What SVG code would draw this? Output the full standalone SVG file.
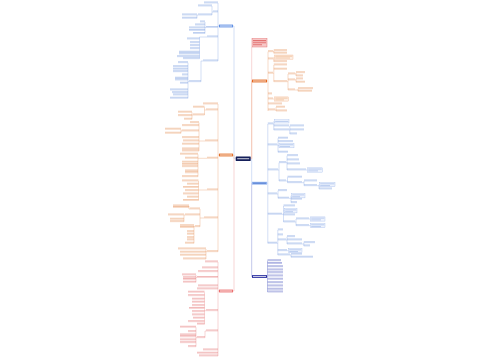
<svg xmlns="http://www.w3.org/2000/svg" xmlns:xlink="http://www.w3.org/1999/xlink" width="500" height="360" viewBox="0 0 500 360">
<style>
.c{fill:none;stroke-width:.45}
.cb{stroke:#9db7ea}.co{stroke:#f0b088}.cr{stroke:#f0a3a3}.cn{stroke:#7882d0}
.s{fill:none;stroke-width:1.1;opacity:.4}
.sb{stroke:#5d87d8}.so{stroke:#e0803f}.sr{stroke:#dc5252}.sn{stroke:#3a47b8}
.t{stroke-width:.9}
.w{fill:none;stroke:#fff;stroke-width:1.1;opacity:.75}
.bxb{fill:#eef3fd;stroke:#9db7ea;stroke-width:.35}
.bxo{fill:#fdefe4;stroke:#f0b088;stroke-width:.35}
</style>
<defs>
<path id="BL" d="M204 3H218M213 12H218M206 27.5H218M207 37H218M203 61H218M198 6H212M198 15H212M182 15H197M182 18.3H197M200 22H205M195 25H205M189 28H205M189 30.5H205M193 33.5H205M187 39H199.5M190 42.7H199.5M190 45.7H199.5M190 48.7H199.5M179 52.3H199.5M179 54H199.5M177 56.7H199.5M183 58.7H199.5M189 81.7H201M178 62.7H188M173 66.7H188M173 69.3H188M173 71.7H188M182 75H188M175 78.3H188M175 80H188M180 83.3H188M170 90H188M172 92.7H188M173 95H188M170 98.3H188"/>
<path id="OL" d="M203 104H218M206 110H218M205 141H218M207 158.3H218M207 190H218M204 218H218M207 251.7H218M193 107.3H204.5M193 115H204.5M178 112.3H192M178 115.7H192M184 119.3H192M190 122.7H199M182 125.7H199M182 131H199M182 137.7H199M183 141H199M182 144.3H199M182 149H199M182 151H199M165 129.3H181M165 133.3H181M180 154.3H198M185 158.3H198M182 162.3H198M182 164.5H198M182 166.7H198M185 171H198M185 172.8H198M182 176.7H198M182 181H198.5M187 184.3H198.5M183 187.5H198.5M185 190.7H198.5M183 194H198.5M187 197.3H198.5M183 200.5H198.5M190 209H200M185 215H200M195 226.7H200M173 206H189M173 207.5H189M168 215H184M170 219.3H184M170 221.7H184M180 225.7H194M180 227.5H194M187 231.7H194M187 234.3H194M187 237.7H194M187 240H194M185 243.3H194M178 249H206M180 252.3H206M180 255.3H206M183 259H206"/>
<path id="RL" d="M205 262H218M202 268H218M198 271.7H218M197 277.5H218M198 286H218M197 289H218M206 310.7H218M206 331H218M203 350H218M197 353.3H218M199 356H218M182 275H196M183 277.7H196M183 279.5H196M183 282.3H196M188 292.3H204.5M188 295.7H204.5M192 299.3H204.5M192 302.3H204.5M192 305.7H204.5M189 308.5H204.5M192 311.7H204.5M192 315H204.5M193 318.3H204.5M188 321.7H204.5M197 324.3H204.5M197 337.7H205M180 327.3H196M188 331.7H196M180 335H196M180 336.8H196M180 340H196M180 342.7H196M188 346.7H196"/>
<path id="RO" d="M268 51.7H273M268 59H273M268 73.3H273M268 94H272M268 99H273M268 104H282M268 110H275M273.8 50.7H287M273.8 53.3H287M273.8 61.7H287M273.8 65H287M273.8 69.3H287M273.8 81.7H287M288 74H295M288 80H295M288 90H295M296 72.7H305M296 76H303M296 79H303M296 82.3H305M298 88.7H313M298 91.3H312M276 107.3H285M276 111H287"/>
<path id="RB" d="M267.8 124H273M267.8 145H277M267.8 170H278M267.8 194H277M267.8 214.3H282M267.8 243.3H277M273.8 126H289M273.8 130H289M289.8 126H304M289.8 130H304M289.8 134H297M278 138.3H288M278 141.7H293M278 152.3H288M279 162.7H286M279 181H286M287 155.7H298M287 160H299M287 164H300M287 170H306M287.5 177.3H302M287.5 182.7H302M304 181H317M304 185.7H317M319 189H332M278 190.7H287M278 198.3H289M291 199.3H302M291 202.7H297M283.5 206H295M283.5 215H295M283.5 222H295M296 219H309M296 225.7H309M277.8 230H283M277.8 235H283M277.8 240H286M277.8 250.7H287M277.8 255H290M287 236.7H295M287 240H302M287 244H302M303.8 242.7H315M303.8 246H310M291 254.3H302M291 257.3H313"/>
<path id="NV" d="M267.5 260.7H281M267.5 263.5H282M267.5 266.7H283M267.5 270H283M267.5 272.8H283M267.5 276H283M267.5 279.3H283M267.5 282.7H283M267.5 286H283M267.5 289.3H283M267.5 292H283"/>
</defs>
<rect width="500" height="360" fill="#fff"/>
<g id="connectors">
<path class="c cb" d="M235.7 158.7H234V26H233"/>
<path class="c co" d="M234 158.7V155H233"/>
<path class="c cr" d="M234 158.7V291H233"/>
<path class="c cr" d="M250.7 158.7H251.7V47"/>
<path class="c co" d="M251.7 158.7V81H252"/>
<path class="c cb" d="M251.7 158.7V183.2H252"/>
<path class="c cn" d="M251.7 183.2V276.5H252"/>
<path class="c cb" d="M219 26H218M218 3V61M213 12H212M212 6V15M198 15H197M197 15V18.3M206 27.5H205M205 22V33.5M207 37H199.5V58.7M203 61H201V81.7M189 81.7H188M188 62.7V98.3"/>
<path class="c co" d="M219 155H218M218 104V251.7M206 110H204.5M204.5 107.3V115M193 115H192M192 112.3V119.3M205 141H199M199 122.7V151M182 131H181M181 129.3V133.3M207 158.3H198M198 154.3V176.7M207 190H198.5M198.5 181V200.5M204 218H200M200 209V226.7M190 209H189V206M185 215H184V221.7M195 226.7H194M194 225.7V243.3M207 251.7H206M206 249V259"/>
<path class="c cr" d="M219 291H218M218 262V356M197 277.5H196M196 275V282.3M206 310.7H204.5M204.5 292.3V324.3M206 331H205V337.7M197 337.7H196M196 327.3V346.7"/>
<path class="c co" d="M267 81H268M268 51.7V111M273 51.7H273.8M273.8 50.7V53.3M273 59H273.8M273.8 57.2V61.7M273.8 57.2H274.5M273 73.3H273.8M273.8 65V81.7M287 81.7H288M288 74V90M295 74H296M296 72.7V76M295 80H296M296 79V82.3M295 90H298M298 88.7V91.3M273 99H274.5M275 110H276M276 107.3V111"/>
<path class="c cb" d="M267 183.2H267.8M267.8 124V243.3M273 124H273.8M273.8 121.4V130M273.8 121.4H274.5M289 130H289.8M289.8 126V134M277 145H278M278 138.3V152.3M278 145.7H279M278 170H279M279 162.7V181M286 162.7H287M287 155.7V170M306 170H307.5M286 181H287.5M287.5 177.3V182.7M302 182.7H304M304 181V185.7M317 185.7H319M319 184.7V189M319 184.7H319.5M277 194H278M278 190.7V198.3M289 198.3H291M291 195.8V202.7M291 195.8H291.5M282 214.3H283.5M283.5 206V222M283.5 210.8H284.5M295 222H296M296 219V225.7M309 219H310.5M309 225.7H310.5M277 243.3H277.8M277.8 230V255M286 240H287M287 236.7V244M302 244H303.8M303.8 242.7V246M287 250.7H288.5M290 255H291M291 254.3V257.3"/>
<path class="c cn" d="M267 276.5H267.5M267.5 260.7V292"/>
</g>
<g id="branch-left-blue">
<use href="#BL" class="c cb"/>
<use href="#BL" class="s sb" transform="translate(0,-1)"/>
</g>
<g id="branch-left-orange">
<use href="#OL" class="c co"/>
<use href="#OL" class="s so" transform="translate(0,-1)"/>
</g>
<g id="branch-left-red">
<use href="#RL" class="c cr"/>
<use href="#RL" class="s sr" transform="translate(0,-1)"/>
</g>
<g id="branch-right-orange">
<use href="#RO" class="c co"/>
<use href="#RO" class="s so" transform="translate(0,-1)"/>
<rect class="bxo" x="274.5" y="55" width="18.5" height="4.2"/>
<rect class="bxo" x="274.5" y="96.9" width="14" height="4.2"/>
<path class="s so t" d="M275.3 56.2H292.2M275.3 58H290M275.3 98.1H287.7M275.3 99.9H284"/>
</g>
<g id="branch-right-blue">
<use href="#RB" class="c cb"/>
<use href="#RB" class="s sb" transform="translate(0,-1)"/>
<rect class="bxb" x="274.5" y="119.8" width="14.5" height="3.2"/>
<rect class="bxb" x="279" y="143.55" width="15" height="4.3"/>
<rect class="bxb" x="307.5" y="167.85" width="15" height="4.3"/>
<rect class="bxb" x="319.5" y="182.6" width="15.5" height="4.2"/>
<rect class="bxb" x="291.5" y="193.7" width="13.5" height="4.2"/>
<rect class="bxb" x="284.5" y="208.7" width="12.5" height="4.2"/>
<rect class="bxb" x="310.5" y="216.9" width="14.5" height="4.2"/>
<rect class="bxb" x="310.5" y="223.6" width="14.5" height="4.2"/>
<rect class="bxb" x="288.5" y="248.6" width="13.5" height="4.2"/>
<path class="s sb t" d="M275.2 121.4H288.3M279.7 144.75H293.3M279.7 146.6H290M308.2 169.05H321.8M308.2 170.9H318M320.2 183.8H334.3M320.2 185.6H330M292.2 194.9H304.3M292.2 196.7H300M285.2 209.9H296.3M285.2 211.7H293M311.2 218.1H324.3M311.2 219.9H321M311.2 224.8H324.3M311.2 226.6H321M289.2 249.8H301.3M289.2 251.6H298"/>
</g>
<g id="branch-right-navy">
<use href="#NV" class="c cn"/>
<use href="#NV" class="s sn" transform="translate(0,-1)"/>
</g>
<g id="node-central">
<rect x="235.7" y="156.5" width="15" height="4.4" rx=".4" fill="#151f5a"/>
<path class="w" d="M237.2 158.7H249.2"/>
</g>
<g id="node-left-blue">
<rect x="219" y="24.6" width="14" height="2.8" fill="#5f90e4"/>
<path class="w" d="M220 26H232"/>
</g>
<g id="node-left-orange">
<rect x="219" y="153.6" width="14" height="2.8" fill="#e3702a"/>
<path class="w" d="M220 155H232"/>
</g>
<g id="node-left-red">
<rect x="219" y="289.6" width="14" height="2.8" fill="#ea6f6f"/>
<path class="w" d="M220 291H232"/>
</g>
<g id="node-note">
<rect x="252" y="38.5" width="15" height="8.5" fill="#f7c8c8" stroke="#e06060" stroke-width=".4"/>
<path d="M253 40.6H266M253 42.7H266M253 44.8H262" fill="none" stroke="#d63a3a" stroke-width="1.1" opacity=".6"/>
</g>
<g id="node-right-orange">
<rect x="252" y="79.6" width="15" height="2.8" fill="#e2661e"/>
<path class="w" d="M253 81H266"/>
</g>
<g id="node-right-blue">
<rect x="252" y="181.8" width="15" height="2.8" fill="#8fb2ee"/>
<path d="M253 183.2H266" fill="none" stroke="#3560c0" stroke-width="1.1" opacity=".55"/>
</g>
<g id="node-right-navy">
<rect x="252" y="275.1" width="15" height="2.8" fill="#2a2fa0"/>
<path class="w" d="M253 276.5H266"/>
</g>
</svg>
